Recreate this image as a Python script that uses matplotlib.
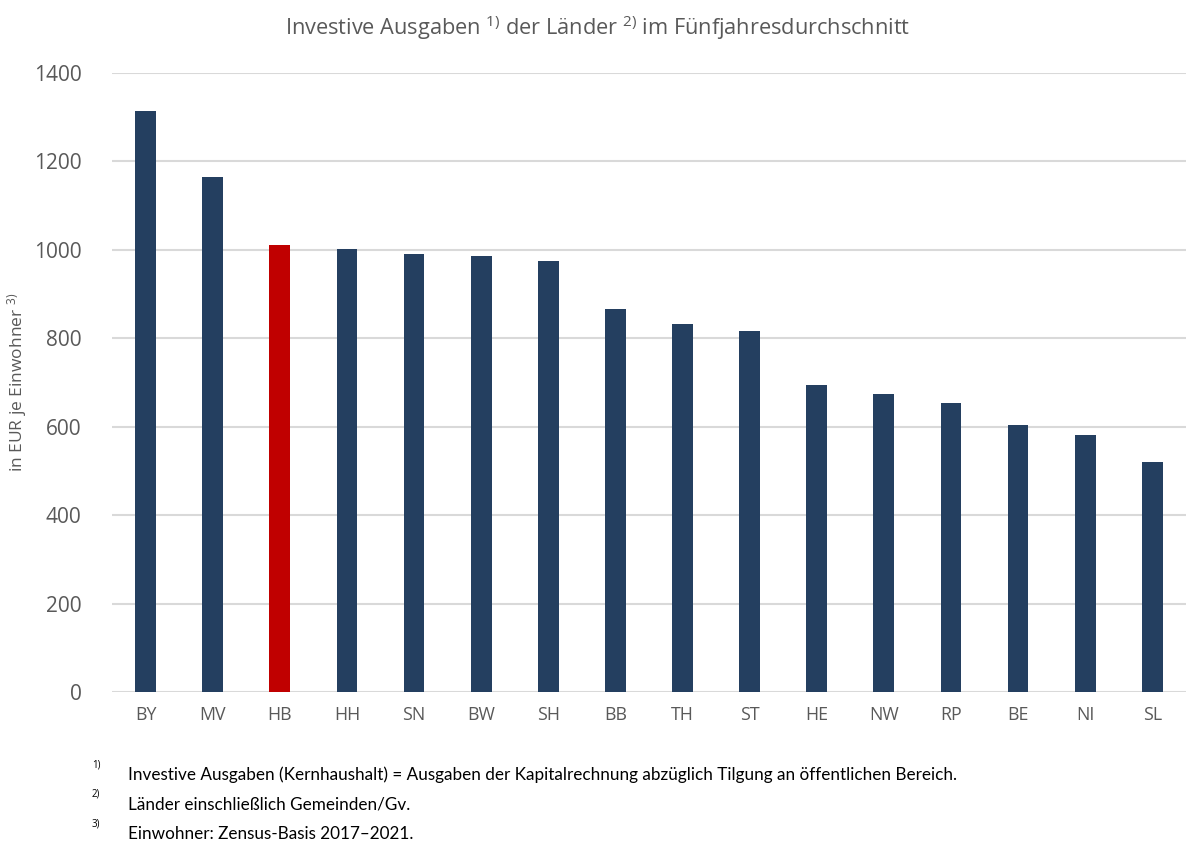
import matplotlib.pyplot as plt

plt.rcParams['font.family'] = ['Open Sans', 'DejaVu Sans']
plt.rcParams['mathtext.fontset'] = 'custom'
plt.rcParams['mathtext.rm'] = 'Open Sans'
plt.rcParams['mathtext.it'] = 'Open Sans'
plt.rcParams['mathtext.bf'] = 'Open Sans'

laender = ['BY', 'MV', 'HB', 'HH', 'SN', 'BW', 'SH', 'BB', 'TH', 'ST', 'HE', 'NW', 'RP', 'BE', 'NI', 'SL']
werte = [1314, 1165, 1010, 1002, 991, 986, 975, 866, 833, 816, 694, 674, 654, 603, 581, 520]
yticks = [0, 200, 400, 600, 800, 1000, 1200, 1400]

navy = '#243F60'
rot = '#C00000'
grau = '#595959'
farben = [rot if l == 'HB' else navy for l in laender]

fig = plt.figure(figsize=(11.87, 8.41), dpi=100)
ax = fig.add_axes([0.0944, 0.1772, 0.9046, 0.736])

ax.bar(range(len(laender)), werte, width=0.31, color=farben, zorder=3)
ax.set_xlim(-0.5, len(laender) - 0.5)
ax.set_ylim(0, 1400)
ax.set_yticks(yticks)
ax.set_xticks(range(len(laender)))
ax.set_xticklabels(laender, fontsize=12.8, color=grau)
ax.tick_params(axis='y', labelsize=15, labelcolor=grau, length=0, pad=22)
ax.tick_params(axis='x', length=0, pad=10)
ax.grid(axis='y', color='#D9D9D9', linewidth=1.5, zorder=0)
for s in ax.spines.values():
    s.set_visible(False)

ax.set_ylabel('in EUR je Einwohner $^{3)}$', fontsize=12.5, color=grau)
ax.yaxis.set_label_coords(-0.077, 0.5)

fig.text(0.503, 0.967, 'Investive Ausgaben $^{1)}$ der Länder $^{2)}$ im Fünfjahresdurchschnitt',
         ha='center', va='center', fontsize=15.7, color=grau)

fussnoten = ['Investive Ausgaben (Kernhaushalt) = Ausgaben der Kapitalrechnung abzüglich Tilgung an öffentlichen Bereich.',
             'Länder einschließlich Gemeinden/Gv.',
             'Einwohner: Zensus-Basis 2017–2021.']
for i, t in enumerate(fussnoten):
    y = 775 + i * 29.5
    fig.text(92 / 1187, 1 - (y - 10) / 841, f'{i + 1})', fontsize=7, color='black', va='center')
    fig.text(128 / 1187, 1 - y / 841, t, fontsize=12.3, color='black', va='center',
             family=['Lato', 'DejaVu Sans'])

fig.savefig('out.png', dpi=100)
